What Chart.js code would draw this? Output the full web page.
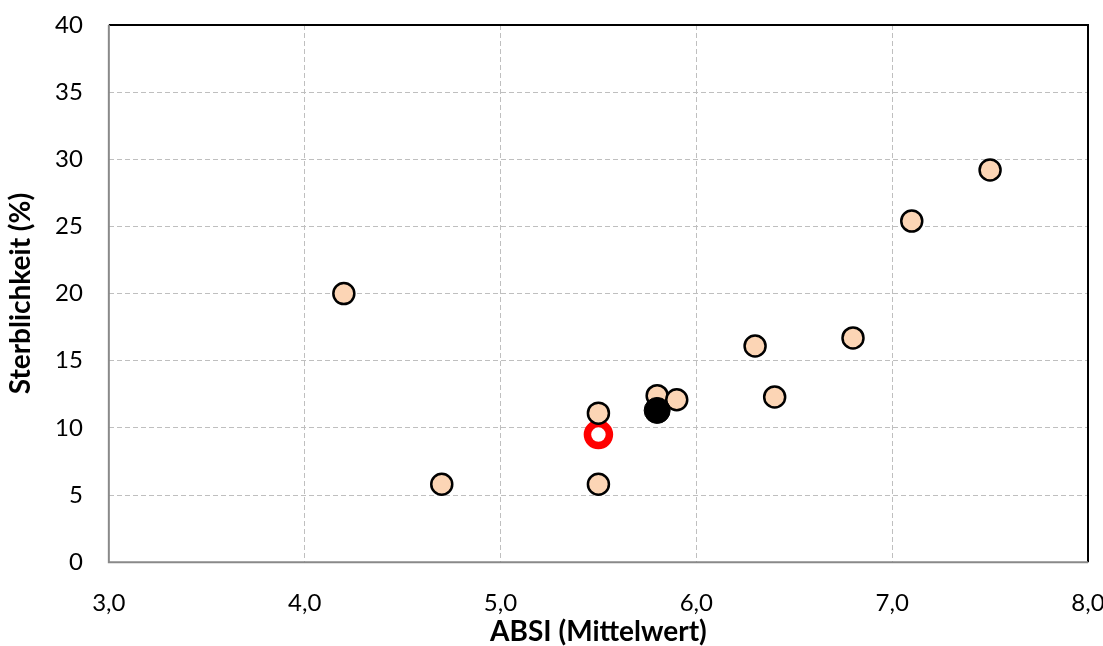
<!DOCTYPE html>
<html lang="de">
<head>
  <meta charset="UTF-8"/>
  <title>Sterblichkeit vs ABSI</title>
  <script src="https://cdn.jsdelivr.net/npm/chart.js@4.4.1/dist/chart.umd.min.js"></script>
  <style>
    html, body { margin: 0; padding: 0; background: #fff; }
    #wrap { width: 1103px; height: 646px; }
  </style>
</head>
<body>
  <div id="wrap"><canvas id="chart"></canvas></div>
  <script>
    // Werte
    const absiValues = [4.2, 4.7, 5.5, 5.5, 5.8, 5.9, 6.3, 6.4, 6.8, 7.1, 7.5];
    const mortalityValues = [20.0, 5.8, 11.1, 5.8, 12.4, 12.1, 16.1, 12.3, 16.7, 25.4, 29.2];
    const blackPoint = { x: 5.8, y: 11.3 };
    const redPoint = { x: 5.5, y: 9.5 };

    const fontFamily = 'Lato, "Open Sans", sans-serif';

    const frame = {
      id: 'frame',
      afterDraw(chart) {
        const { ctx, chartArea: a } = chart;
        ctx.save();
        ctx.lineWidth = 2;
        ctx.strokeStyle = '#000';
        ctx.beginPath();
        ctx.moveTo(a.left, a.top);
        ctx.lineTo(a.right, a.top);
        ctx.lineTo(a.right, a.bottom);
        ctx.stroke();
        ctx.strokeStyle = '#898989';
        ctx.beginPath();
        ctx.moveTo(a.left, a.top);
        ctx.lineTo(a.left, a.bottom);
        ctx.lineTo(a.right, a.bottom);
        ctx.stroke();
        ctx.restore();
      }
    };

    const noScalePadding = scale => {
      scale.paddingTop = 0;
      scale.paddingBottom = 0;
      scale.paddingLeft = 0;
      scale.paddingRight = 0;
    };

    new Chart(document.getElementById('chart'), {
      type: 'scatter',
      data: {
        datasets: [
          {
            label: 'schwarz',
            data: [blackPoint],
            pointRadius: 13,
            pointBackgroundColor: '#000',
            pointBorderColor: '#000',
            pointBorderWidth: 1,
            clip: false
          },
          {
            label: 'Werte',
            data: absiValues.map((x, i) => ({ x, y: mortalityValues[i] })),
            pointRadius: 10.5,
            pointBackgroundColor: '#FCD5B5',
            pointBorderColor: '#000',
            pointBorderWidth: 2.5,
            clip: false
          },
          {
            label: 'rot',
            data: [redPoint],
            pointRadius: 11,
            pointBackgroundColor: '#fff',
            pointBorderColor: '#FF0000',
            pointBorderWidth: 7.5,
            clip: false
          }
        ]
      },
      options: {
        responsive: true,
        maintainAspectRatio: false,
        animation: false,
        layout: { autoPadding: false, padding: { top: 25, right: 15, left: 7, bottom: 0 } },
        plugins: {
          legend: { display: false },
          tooltip: { enabled: false }
        },
        scales: {
          x: {
            type: 'linear',
            min: 3,
            max: 8,
            afterFit: scale => { noScalePadding(scale); scale.height -= 27; },
            ticks: {
              stepSize: 1,
              color: '#000',
              font: { family: fontFamily, size: 24 },
              padding: 27,
              callback: v => v.toFixed(1).replace('.', ',')
            },
            grid: { color: '#BFBFBF', lineWidth: 1, drawTicks: false },
            border: { display: false, dash: [5, 3] },
            title: {
              display: true,
              text: 'ABSI (Mittelwert)',
              color: '#000',
              font: { family: fontFamily, size: 28, weight: 'bold', lineHeight: 1 },
              padding: { top: 0, bottom: 0 }
            }
          },
          y: {
            min: 0,
            max: 40,
            afterFit: scale => { noScalePadding(scale); scale.width -= 26; },
            ticks: {
              stepSize: 5,
              color: '#000',
              font: { family: fontFamily, size: 24 },
              padding: 26
            },
            grid: { color: '#BFBFBF', lineWidth: 1, drawTicks: false },
            border: { display: false, dash: [5, 3] },
            title: {
              display: true,
              text: 'Sterblichkeit (%)',
              color: '#000',
              font: { family: fontFamily, size: 28, weight: 'bold', lineHeight: 1 },
              padding: { top: 0, bottom: 20 }
            }
          }
        }
      },
      plugins: [frame]
    });
  </script>
</body>
</html>
